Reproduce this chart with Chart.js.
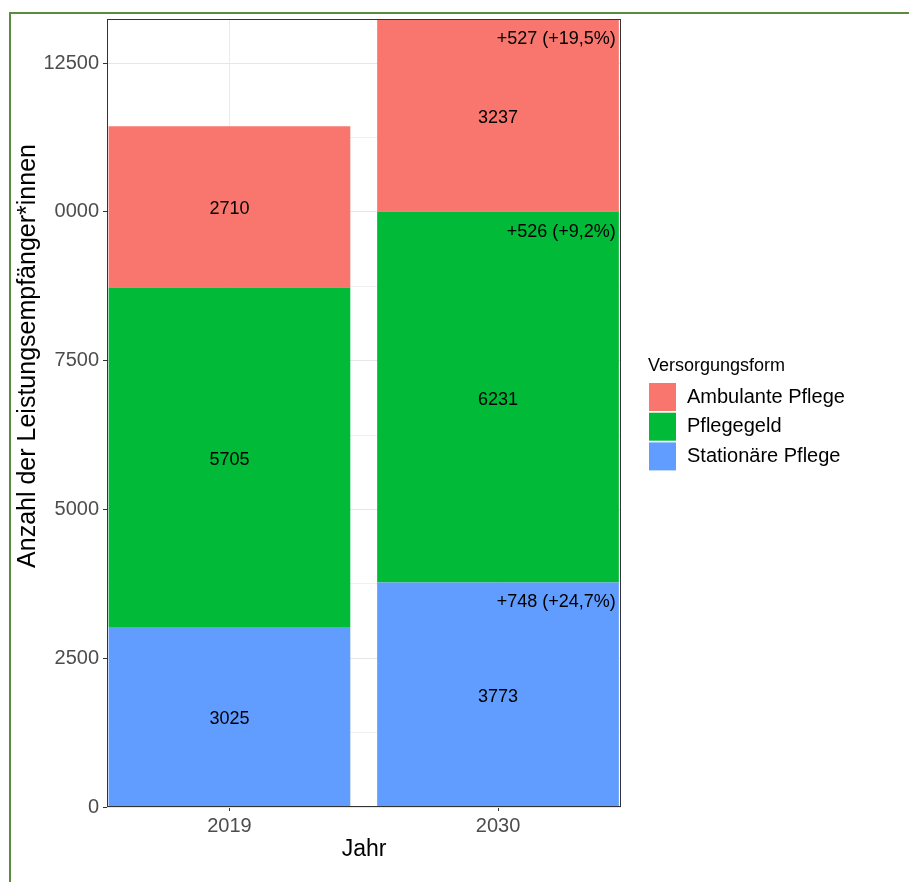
<!DOCTYPE html>
<html>
<head>
<meta charset="utf-8">
<script src="https://cdn.jsdelivr.net/npm/chart.js@4"></script>
<style>
  html, body { margin: 0; padding: 0; background: #ffffff; }
  canvas { display: block; }
</style>
</head>
<body>
<canvas id="c" width="909" height="882"></canvas>
<script>
// ---- data ----
const categories = ['2019', '2030'];
const stationaer = [3025, 3773];
const pflegegeld = [5705, 6231];
const ambulant = [2710, 3237];
const seriesNames = ['Stationäre Pflege', 'Pflegegeld', 'Ambulante Pflege'];
const changeLabels2030 = ['+748 (+24,7%)', '+526 (+9,2%)', '+527 (+19,5%)'];
const yGridValues = [0, 1250, 2500, 3750, 5000, 6250, 7500, 8750, 10000, 11250, 12500];
const yTickLabels = ['0', '2500', '5000', '7500', '0000', '12500'];
const yMax = 13241;
const legendTitle = 'Versorgungsform';
const xTitle = 'Jahr';
const yTitle = 'Anzahl der Leistungsempfänger*innen';

const FONT = '"Liberation Sans", Arial, sans-serif';
const colors = ['#619CFF', '#00BA38', '#F8766D'];

const seriesValues = [stationaer, pflegegeld, ambulant];
const datasets = seriesValues.map((vals, i) => ({
  label: seriesNames[i],
  data: vals.map((v, j) => ({ x: j + 1, y: v })),
  backgroundColor: colors[i],
  borderWidth: 0,
  barPercentage: 0.9,
  categoryPercentage: 1.0
}));

const isMajor = (v) => v % 2500 === 0;

const decorPlugin = {
  id: 'decor',
  afterDatasetsDraw(chart) {
    const ctx = chart.ctx;
    const area = chart.chartArea;
    ctx.save();
    ctx.fillStyle = '#000000';
    ctx.font = '18px ' + FONT;
    ctx.textAlign = 'center';
    ctx.textBaseline = 'middle';
    chart.data.datasets.forEach((ds, i) => {
      const meta = chart.getDatasetMeta(i);
      meta.data.forEach((bar, j) => {
        const p = bar.getProps(['x', 'y', 'base', 'width'], true);
        ctx.fillText(String(seriesValues[i][j]), p.x, (p.y + p.base) / 2 + 2.5);
      });
    });
    ctx.textAlign = 'right';
    chart.data.datasets.forEach((ds, i) => {
      const meta = chart.getDatasetMeta(i);
      const bar = meta.data[1];
      const p = bar.getProps(['x', 'y', 'base', 'width'], true);
      ctx.fillText(changeLabels2030[i], p.x + p.width / 2 - 3, p.y + 20);
    });
    ctx.strokeStyle = '#333333';
    ctx.lineWidth = 1;
    ctx.strokeRect(Math.round(area.left) + 0.5, Math.round(area.top) + 0.5,
      Math.round(area.right - area.left) - 1, Math.round(area.bottom - area.top) - 1);
    ctx.restore();
  },
  afterDraw(chart) {
    const ctx = chart.ctx;
    const area = chart.chartArea;
    ctx.save();
    ctx.fillStyle = '#000000';
    ctx.font = '23px ' + FONT;
    ctx.textAlign = 'center';
    ctx.textBaseline = 'middle';
    ctx.fillText(xTitle, (area.left + area.right) / 2, 850);
    ctx.save();
    ctx.translate(28, 356);
    ctx.rotate(-Math.PI / 2);
    ctx.font = '25px ' + FONT;
    ctx.fillText(yTitle, 0, 0);
    ctx.restore();
    ctx.textAlign = 'left';
    ctx.font = '18px ' + FONT;
    ctx.fillText(legendTitle, 648, 366);
    ctx.font = '20px ' + FONT;
    const order = [2, 1, 0];
    order.forEach((di, k) => {
      const top = 383 + k * 29.7;
      ctx.fillStyle = colors[di];
      ctx.fillRect(649, top, 27, 28);
      ctx.fillStyle = '#000000';
      ctx.fillText(seriesNames[di], 687, top + 14);
    });
    ctx.fillStyle = '#5b8b3c';
    ctx.fillRect(9, 12, 900, 2);
    ctx.fillRect(9, 12, 2, 870);
    ctx.restore();
  }
};

new Chart(document.getElementById('c'), {
  type: 'bar',
  data: { datasets },
  plugins: [decorPlugin],
  options: {
    responsive: false,
    devicePixelRatio: 1,
    animation: false,
    layout: { padding: { left: 0, top: 19, right: 288, bottom: 0 } },
    plugins: { legend: { display: false }, tooltip: { enabled: false } },
    scales: {
      x: {
        type: 'linear',
        stacked: true,
        offset: false,
        min: 0.544,
        max: 2.458,
        afterFit(scale) { scale.height = 75; },
        afterBuildTicks(scale) { scale.ticks = categories.map((c, i) => ({ value: i + 1 })); },
        border: { display: false },
        grid: {
          offset: false,
          color: '#ebebeb',
          lineWidth: 1,
          tickLength: 4,
          tickColor: '#333333'
        },
        ticks: {
          autoSkip: false,
          maxRotation: 0,
          padding: 3,
          color: '#4d4d4d',
          font: { size: 20, family: FONT },
          callback(v) { return categories[Math.round(v) - 1] || ''; }
        }
      },
      y: {
        stacked: true,
        min: 0,
        max: yMax,
        afterFit(scale) { scale.width = 107; },
        afterBuildTicks(scale) { scale.ticks = yGridValues.map(v => ({ value: v })); },
        border: { display: false },
        grid: {
          color(ctx) { return ctx.tick && isMajor(ctx.tick.value) ? '#e6e6e6' : '#f0f0f0'; },
          lineWidth: 1,
          tickLength: 4,
          tickColor(ctx) { return ctx.tick && isMajor(ctx.tick.value) ? '#333333' : 'rgba(0,0,0,0)'; }
        },
        ticks: {
          autoSkip: false,
          padding: 4,
          color: '#4d4d4d',
          font: { size: 20, family: FONT },
          callback(v) { return isMajor(v) ? yTickLabels[v / 2500] : ''; }
        }
      }
    }
  }
});
</script>
</body>
</html>
